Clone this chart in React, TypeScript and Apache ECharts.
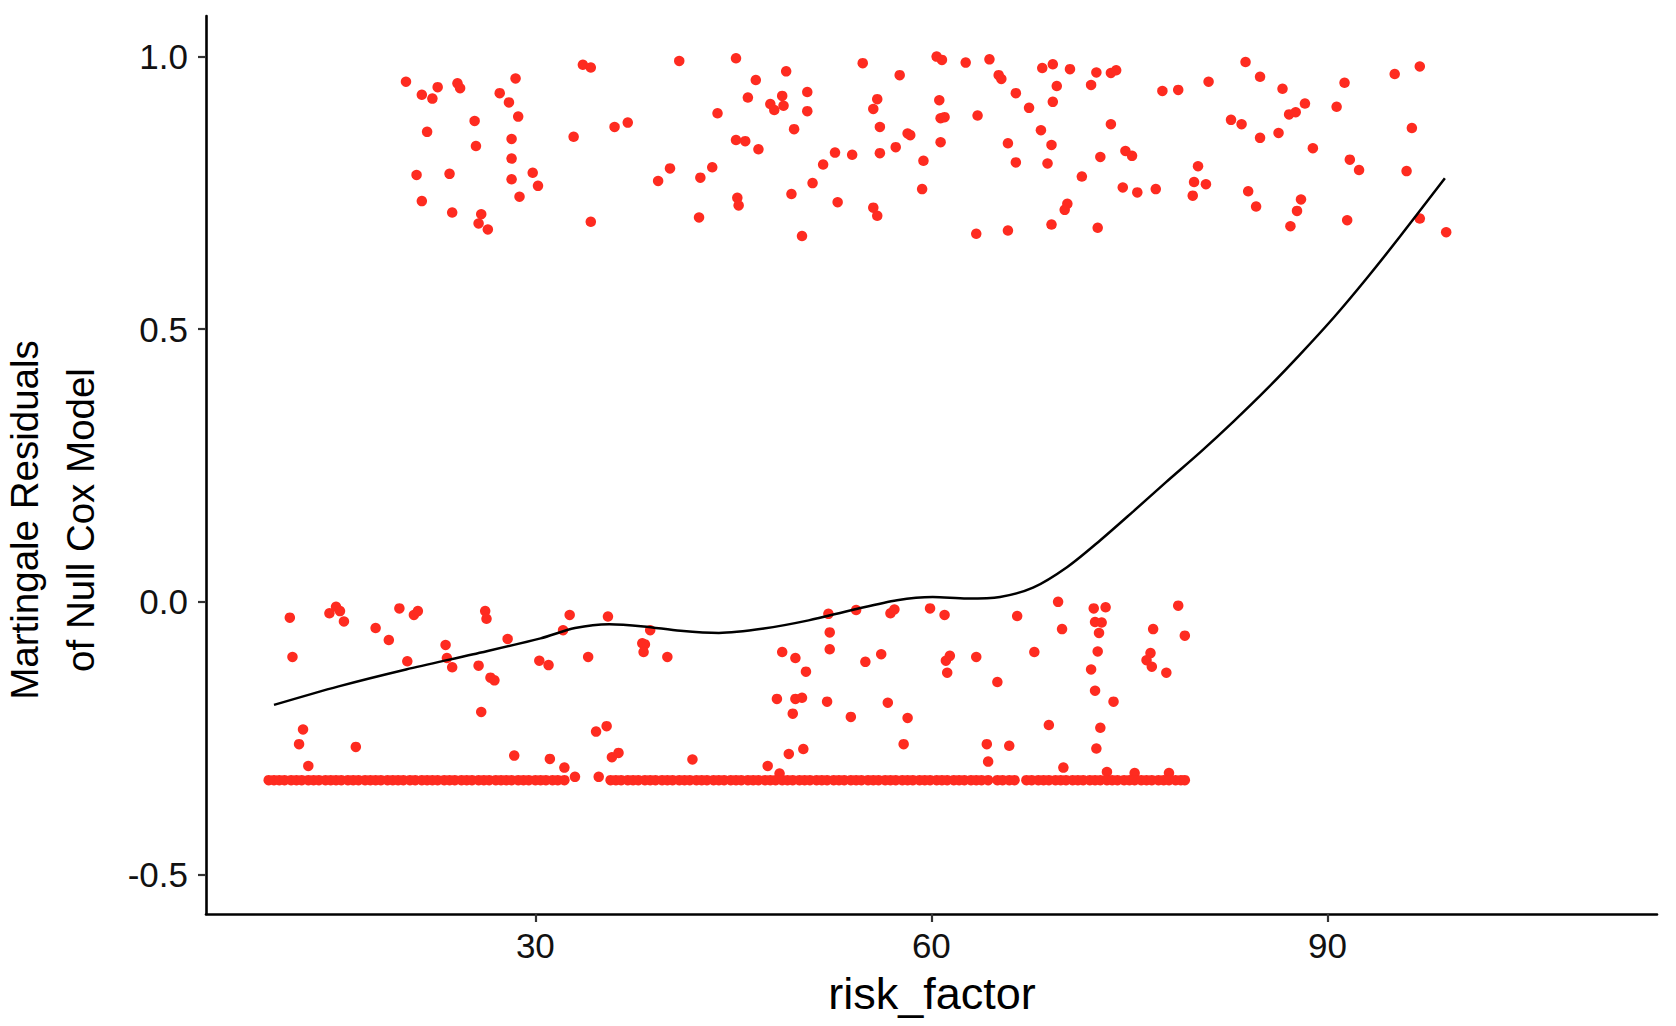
import React, { useEffect, useRef } from "react";
import * as echarts from "echarts";

// Upper cluster of residuals (x = risk_factor, y = martingale residual)
const upperPoints: [number, number][] = [
  [20.2, 0.954], [21.4, 0.930], [22.2, 0.923], [22.6, 0.944], [24.1, 0.951], [24.3, 0.942],
  [21.8, 0.862], [21.0, 0.783], [21.4, 0.735], [23.5, 0.785], [23.7, 0.714], [25.4, 0.882],
  [25.5, 0.836], [25.9, 0.711], [25.7, 0.694], [26.4, 0.683], [27.3, 0.933], [28.0, 0.916],
  [28.5, 0.960], [28.7, 0.890], [28.2, 0.849], [28.2, 0.813], [28.2, 0.775], [29.8, 0.787],
  [30.2, 0.763], [28.8, 0.743], [32.9, 0.853], [33.6, 0.985], [34.2, 0.980], [34.2, 0.697],
  [36.0, 0.871], [37.0, 0.879], [40.9, 0.992], [39.3, 0.772], [40.2, 0.795], [42.5, 0.778],
  [43.4, 0.797], [42.4, 0.705], [43.8, 0.896], [45.2, 0.997], [45.2, 0.847], [45.9, 0.845],
  [46.9, 0.830], [45.3, 0.741], [45.4, 0.727], [46.1, 0.925], [46.7, 0.957], [47.8, 0.913],
  [48.1, 0.902], [48.7, 0.928], [48.8, 0.910], [49.0, 0.973], [49.6, 0.867], [49.4, 0.748],
  [50.6, 0.935], [50.6, 0.900], [51.0, 0.768], [50.2, 0.671], [51.8, 0.802], [52.7, 0.824],
  [54.0, 0.820], [52.9, 0.733], [54.8, 0.988], [55.9, 0.922], [55.6, 0.904], [56.1, 0.871],
  [56.1, 0.823], [57.3, 0.834], [57.6, 0.966], [58.2, 0.859], [58.4, 0.856], [55.6, 0.723],
  [55.9, 0.708], [59.4, 0.809], [59.3, 0.757], [60.4, 1.000], [60.8, 0.994], [60.6, 0.920],
  [60.7, 0.887], [61.0, 0.889], [60.7, 0.843],
  [62.6, 0.989], [64.4, 0.995], [65.1, 0.966], [65.3, 0.959], [66.4, 0.933], [67.4, 0.906],
  [63.5, 0.892], [65.8, 0.841], [66.4, 0.806], [68.3, 0.865], [69.1, 0.838], [68.8, 0.804],
  [68.4, 0.979], [69.2, 0.986], [70.5, 0.977], [69.5, 0.946], [69.2, 0.917], [72.5, 0.971],
  [72.1, 0.948], [73.6, 0.970], [74.0, 0.975], [73.6, 0.876], [71.4, 0.780], [72.8, 0.816],
  [74.7, 0.827], [75.2, 0.818], [74.5, 0.760], [75.6, 0.751], [77.0, 0.757], [70.3, 0.730],
  [70.1, 0.719], [69.1, 0.692], [72.6, 0.686], [63.4, 0.675], [65.8, 0.681], [77.5, 0.937],
  [78.7, 0.939], [81.0, 0.954], [80.2, 0.799], [79.9, 0.770], [80.8, 0.766], [79.8, 0.745],
  [83.8, 0.990], [84.9, 0.963], [86.6, 0.941], [88.3, 0.914], [87.1, 0.894], [87.6, 0.898],
  [90.7, 0.908], [91.3, 0.952], [82.7, 0.884], [83.5, 0.876], [84.9, 0.851], [86.3, 0.860],
  [88.9, 0.832], [84.0, 0.753], [84.6, 0.725], [88.0, 0.738], [87.7, 0.717], [87.2, 0.689],
  [91.7, 0.811], [92.4, 0.792], [91.5, 0.700], [95.1, 0.968], [97.0, 0.982], [96.4, 0.869],
  [96.0, 0.790], [97.0, 0.703], [99.0, 0.678],
];

// Scattered residuals below zero
const lowerPoints: [number, number][] = [
  [11.4, -0.029], [11.6, -0.101], [12.4, -0.234], [12.1, -0.261], [12.8, -0.301], [14.4, -0.021],
  [14.9, -0.009], [15.2, -0.017], [15.5, -0.036], [16.4, -0.266], [17.9, -0.048], [18.9, -0.070],
  [19.7, -0.012], [20.3, -0.109], [20.8, -0.024], [21.1, -0.017], [23.2, -0.079], [23.3, -0.103],
  [23.7, -0.120], [25.7, -0.117], [26.2, -0.017], [26.3, -0.031], [26.6, -0.139], [26.9, -0.144],
  [25.9, -0.202], [27.9, -0.068], [28.4, -0.282], [30.3, -0.108], [31.0, -0.116], [31.1, -0.288],
  [32.1, -0.052], [32.2, -0.304], [32.6, -0.024], [33.0, -0.321], [34.0, -0.101], [34.6, -0.238],
  [35.4, -0.228], [35.5, -0.027], [35.8, -0.285], [36.3, -0.277], [34.8, -0.321], [38.7, -0.052],
  [38.1, -0.076], [38.3, -0.078], [38.2, -0.092], [40.0, -0.101], [41.9, -0.289], [47.6, -0.301],
  [48.5, -0.315], [48.3, -0.178], [48.7, -0.092], [49.7, -0.103], [50.5, -0.128], [49.7, -0.178],
  [50.2, -0.176], [49.5, -0.205], [49.2, -0.279], [50.3, -0.270], [52.2, -0.022], [52.3, -0.056],
  [52.3, -0.087], [52.1, -0.183], [53.9, -0.211], [54.3, -0.015], [55.0, -0.110], [56.2, -0.096],
  [56.7, -0.185], [58.2, -0.213], [57.9, -0.261], [56.9, -0.021], [57.2, -0.014], [59.9, -0.012],
  [61.0, -0.024], [61.4, -0.099], [61.1, -0.108], [61.2, -0.130], [63.4, -0.101], [65.0, -0.147],
  [66.5, -0.026], [64.2, -0.261], [64.3, -0.293], [65.9, -0.264], [67.8, -0.092], [68.9, -0.226],
  [69.6, -0.000], [69.9, -0.050], [70.0, -0.304], [72.3, -0.012], [73.2, -0.010], [72.4, -0.037],
  [72.9, -0.038], [72.7, -0.057], [72.6, -0.091], [72.1, -0.124], [72.4, -0.163], [73.8, -0.183],
  [72.8, -0.231], [72.5, -0.269], [73.3, -0.312], [75.4, -0.314], [78.0, -0.314], [76.8, -0.050],
  [76.6, -0.094], [76.3, -0.107], [76.7, -0.119], [77.8, -0.130], [78.7, -0.007], [79.2, -0.062],
];

// Censored subjects all share the same residual value
const baselineY = -0.327;
const baselineX: number[] = [
  9.8, 10.2, 10.6, 11.0, 11.5, 11.9, 12.3, 12.8, 13.2, 13.6, 14.1, 14.5, 14.9, 15.3, 15.8, 16.2,
  16.6, 17.1, 17.5, 17.9, 18.3, 18.8, 19.2, 19.6, 20.0, 20.5, 20.9, 21.4, 21.8, 22.2, 22.6, 23.1,
  23.5, 23.9, 24.4, 24.8, 25.2, 25.7, 26.1, 26.5, 27.0, 27.4, 27.8, 28.2, 28.7, 29.1, 29.5, 30.0,
  30.4, 30.8, 31.3, 31.7, 32.2, 35.7, 36.1, 36.5, 37.0, 37.4, 37.8, 38.3, 38.7, 39.1, 39.6, 40.0,
  40.4, 40.9, 41.3, 41.7, 42.2, 42.6, 43.0, 43.5, 43.9, 44.3, 44.8, 45.2, 45.6, 46.1, 46.5, 46.9,
  47.4, 47.8, 48.2, 48.7, 49.1, 49.5, 50.0, 50.4, 50.8, 51.3, 51.7, 52.1, 52.6, 53.0, 53.4, 53.9,
  54.3, 54.7, 55.2, 55.6, 56.0, 56.5, 56.9, 57.3, 57.8, 58.2, 58.6, 59.1, 59.5, 59.9, 60.4, 60.8,
  61.2, 61.7, 62.1, 62.5, 63.0, 63.4, 63.8, 64.3, 65.0, 65.4, 65.9, 66.3, 67.2, 67.6, 68.1, 68.5,
  68.9, 69.4, 69.8, 70.2, 70.7, 71.1, 71.5, 72.0, 72.4, 72.8, 73.3, 73.7, 74.1, 74.6, 75.0, 75.4,
  75.9, 76.3, 76.7, 77.2, 77.6, 78.0, 78.5, 78.9, 79.2,
];

// Smoothed (loess) curve
const smoothX: number[] = [
  10.2, 15.1, 20.2, 25.3, 30.4, 33.0, 35.6, 38.2, 41.0, 43.9, 47.3, 50.7, 54.0, 57.4, 60.1,
  62.7, 65.2, 67.7, 70.3, 72.8, 75.3, 77.8, 80.4, 82.9, 85.4, 87.9, 90.5, 93.0, 95.5, 98.9,
];
const smoothY: number[] = [
  -0.189, -0.155, -0.124, -0.096, -0.067, -0.048, -0.041, -0.045, -0.053, -0.057, -0.049,
  -0.034, -0.015, 0.003, 0.009, 0.006, 0.009, 0.026, 0.064, 0.113, 0.166, 0.220, 0.275, 0.331,
  0.390, 0.453, 0.522, 0.594, 0.670, 0.777,
];

const xTicks = [30, 60, 90];
const yTicks = [-0.5, 0, 0.5, 1.0];
const xTitle = "risk_factor";
const yTitleLines = ["Martingale Residuals", "of Null Cox Model"];

const FONT = "'Liberation Sans', Arial, Helvetica, sans-serif";
const POINT_COLOR = "#fe2b20";

export default function App() {
  const ref = useRef<HTMLDivElement>(null);

  useEffect(() => {
    document.body.style.margin = "0";
    if (!ref.current) return;
    const chart = echarts.init(ref.current, undefined, { renderer: "svg" });

    const scatterStyle = {
      type: "scatter" as const,
      symbol: "circle",
      symbolSize: 10.5,
      itemStyle: { color: POINT_COLOR, opacity: 1 },
      silent: true,
    };

    chart.setOption({
      animation: false,
      backgroundColor: "#ffffff",
      grid: { left: 206, top: 16, right: 19, bottom: 112, containLabel: false },
      xAxis: {
        type: "value",
        min: 5.05,
        max: 114.97,
        splitLine: { show: false },
        axisLine: { show: true, onZero: false, lineStyle: { color: "#000", width: 2.6 } },
        axisTick: {
          show: true,
          length: 8,
          customValues: xTicks,
          lineStyle: { color: "#333", width: 2.2 },
        },
        axisLabel: {
          show: true,
          customValues: xTicks,
          fontSize: 35,
          fontFamily: FONT,
          color: "#111",
          margin: 14,
          formatter: (v: number) => String(v),
        },
      },
      yAxis: {
        type: "value",
        min: -0.5725,
        max: 1.0745,
        splitLine: { show: false },
        axisLine: { show: true, onZero: false, lineStyle: { color: "#000", width: 2.6 } },
        axisTick: {
          show: true,
          length: 8,
          customValues: yTicks,
          lineStyle: { color: "#333", width: 2.2 },
        },
        axisLabel: {
          show: true,
          customValues: yTicks,
          fontSize: 35,
          fontFamily: FONT,
          color: "#111",
          margin: 18,
          formatter: (v: number) => v.toFixed(1),
        },
      },
      graphic: [
        {
          type: "text",
          x: 24,
          y: 520,
          rotation: Math.PI / 2,
          style: {
            text: yTitleLines[0],
            fontSize: 38.5,
            fontFamily: FONT,
            fill: "#000",
            align: "center",
            verticalAlign: "middle",
          },
        },
        {
          type: "text",
          x: 80,
          y: 520,
          rotation: Math.PI / 2,
          style: {
            text: yTitleLines[1],
            fontSize: 38.5,
            fontFamily: FONT,
            fill: "#000",
            align: "center",
            verticalAlign: "middle",
          },
        },
        {
          type: "text",
          x: 932,
          y: 993,
          style: {
            text: xTitle,
            fontSize: 45,
            fontFamily: FONT,
            fill: "#000",
            align: "center",
            verticalAlign: "middle",
          },
        },
      ],
      series: [
        { ...scatterStyle, name: "upper", data: upperPoints },
        { ...scatterStyle, name: "lower", data: lowerPoints },
        { ...scatterStyle, name: "censored", data: baselineX.map((x) => [x, baselineY]) },
        {
          type: "line",
          name: "smooth",
          data: smoothX.map((x, i) => [x, smoothY[i]]),
          smooth: 0.3,
          symbol: "none",
          silent: true,
          lineStyle: { color: "#000", width: 2.5 },
        },
      ],
    });

    return () => chart.dispose();
  }, []);

  return (
    <div
      ref={ref}
      style={{ position: "absolute", left: 0, top: 0, width: 1676, height: 1026, background: "#fff" }}
    />
  );
}
